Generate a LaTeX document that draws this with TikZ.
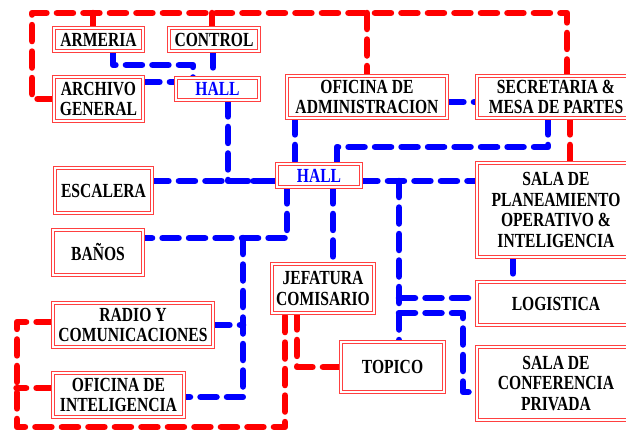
\documentclass[tikz,border=0pt]{standalone}
\usepackage{fontspec}
\setmainfont{Liberation Serif}[FakeStretch=0.78]
\usetikzlibrary{backgrounds}

\tikzset{
  room/.style={draw=red!75, line width=0.9pt, double=white, double distance=1.6pt,
    fill=white, align=center, inner sep=0pt,
    font=\fontsize{20}{20.5}\selectfont\bfseries},
  hallroom/.style={room, text=blue},
  redway/.style={red, line width=6.5pt, line cap=round, line join=round,
    dash pattern=on 16pt off 10.5pt},
  blueway/.style={blue, line width=6.5pt, line cap=round, line join=round,
    dash pattern=on 16pt off 10.5pt}
}

\begin{document}
\begin{tikzpicture}[x=1pt, y=-1pt]
  \useasboundingbox (0,0) rectangle (626,429);

  % rooms
  \node[room, minimum width=89pt, minimum height=23pt] (armeria) at (98.5,39.5) {ARMERIA};
  \node[room, minimum width=90pt, minimum height=23pt] (control) at (214,39.5) {CONTROL};
  \node[room, minimum width=89pt, minimum height=44pt] (archivo) at (98.5,99) {ARCHIVO\\GENERAL};
  \node[hallroom, minimum width=83pt, minimum height=22pt] (hallA) at (217.5,89) {HALL};
  \node[room, minimum width=160pt, minimum height=42pt] (admin) at (367,97) {OFICINA DE\\ADMINISTRACION};
  \node[room, minimum width=158pt, minimum height=42pt] (secretaria) at (556,97) {SECRETARIA \&\\MESA DE PARTES};
  \node[room, minimum width=97pt, minimum height=45pt] (escalera) at (103.5,190.5) {ESCALERA};
  \node[room, minimum width=90pt, minimum height=45pt] (banos) at (98,252.5) {BAÑOS};
  \node[hallroom, minimum width=84pt, minimum height=23pt] (hallB) at (319,175.5) {HALL};
  \node[room, minimum width=158pt, minimum height=94pt] (planeam) at (556,210) {SALA DE\\PLANEAMIENTO\\OPERATIVO \&\\INTELIGENCIA};
  \node[room, minimum width=102pt, minimum height=49pt] (jefatura) at (323,288.5) {JEFATURA\\COMISARIO};
  \node[room, minimum width=160pt, minimum height=44pt] (radio) at (133,325) {RADIO Y\\COMUNICACIONES};
  \node[room, minimum width=131pt, minimum height=44pt] (intelig) at (118.5,395) {OFICINA DE\\INTELIGENCIA};
  \node[room, minimum width=158pt, minimum height=43pt] (logistica) at (556,303.5) {LOGISTICA};
  \node[room, minimum width=103pt, minimum height=50pt] (topico) at (392.5,367) {TOPICO};
  \node[room, minimum width=158pt, minimum height=73pt] (conferencia) at (556,383.5) {SALA DE\\CONFERENCIA\\PRIVADA};

  \begin{scope}[on background layer]
    % red links
    \draw[redway] (archivo.west) -| (32,13) -| (567,0 |- secretaria.north);
    \draw[redway] (93,13) -- (93,0 |- armeria.north);
    \draw[redway] (212,13) -- (212,0 |- control.north);
    \draw[redway] (367,13) -- (admin.north);
    \draw[redway] (570,0 |- secretaria.south) -- (570,0 |- planeam.north);
    \draw[redway] ([yshift=3pt]radio.west) -| (17,427) -| (285,0 |- jefatura.south);
    \draw[redway] ([yshift=7pt]intelig.west) -- +(-36pt,0);
    \draw[redway] (297,0 |- jefatura.south) |- (topico.west);

    % blue links
    \draw[blueway] (113,0 |- armeria.south) |- (193,65) -- (193,0 |- hallA.north);
    \draw[blueway] (213,0 |- control.south) -- (213,0 |- hallA.north);
    \draw[blueway] (archivo.east |- 0,82) -- (hallA.west |- 0,82);
    \draw[blueway] (228,0 |- hallA.south) |- (hallB.west |- 0,181);
    \draw[blueway] (escalera.east |- 0,181) -- (hallB.west |- 0,181);
    \draw[blueway] (295,0 |- admin.south) -- (295,0 |- hallB.north);
    \draw[blueway] (admin.east |- 0,102) -- (secretaria.west |- 0,102);
    \draw[blueway] (548,0 |- secretaria.south) |- (337,147) -- (337,0 |- hallB.north);
    \draw[blueway] (333,0 |- hallB.south) -- (333,0 |- jefatura.north);
    \draw[blueway] (287,0 |- hallB.south) |- (banos.east |- 0,238);
    \draw[blueway] (243,238) |- (intelig.east |- 0,397);
    \draw[blueway] (radio.east |- 0,325) -- (243,325);
    \draw[blueway] (hallB.east |- 0,181) -- (planeam.west |- 0,181);
    \draw[blueway] (399,181) -- (399,0 |- topico.north);
    \draw[blueway] (399,298) -- (logistica.west |- 0,298);
    \draw[blueway] (399,313) -| (463,392) -- (conferencia.west |- 0,392);
    \draw[blueway] (513,0 |- planeam.south) -- (513,0 |- logistica.north);
  \end{scope}
\end{tikzpicture}
\end{document}
